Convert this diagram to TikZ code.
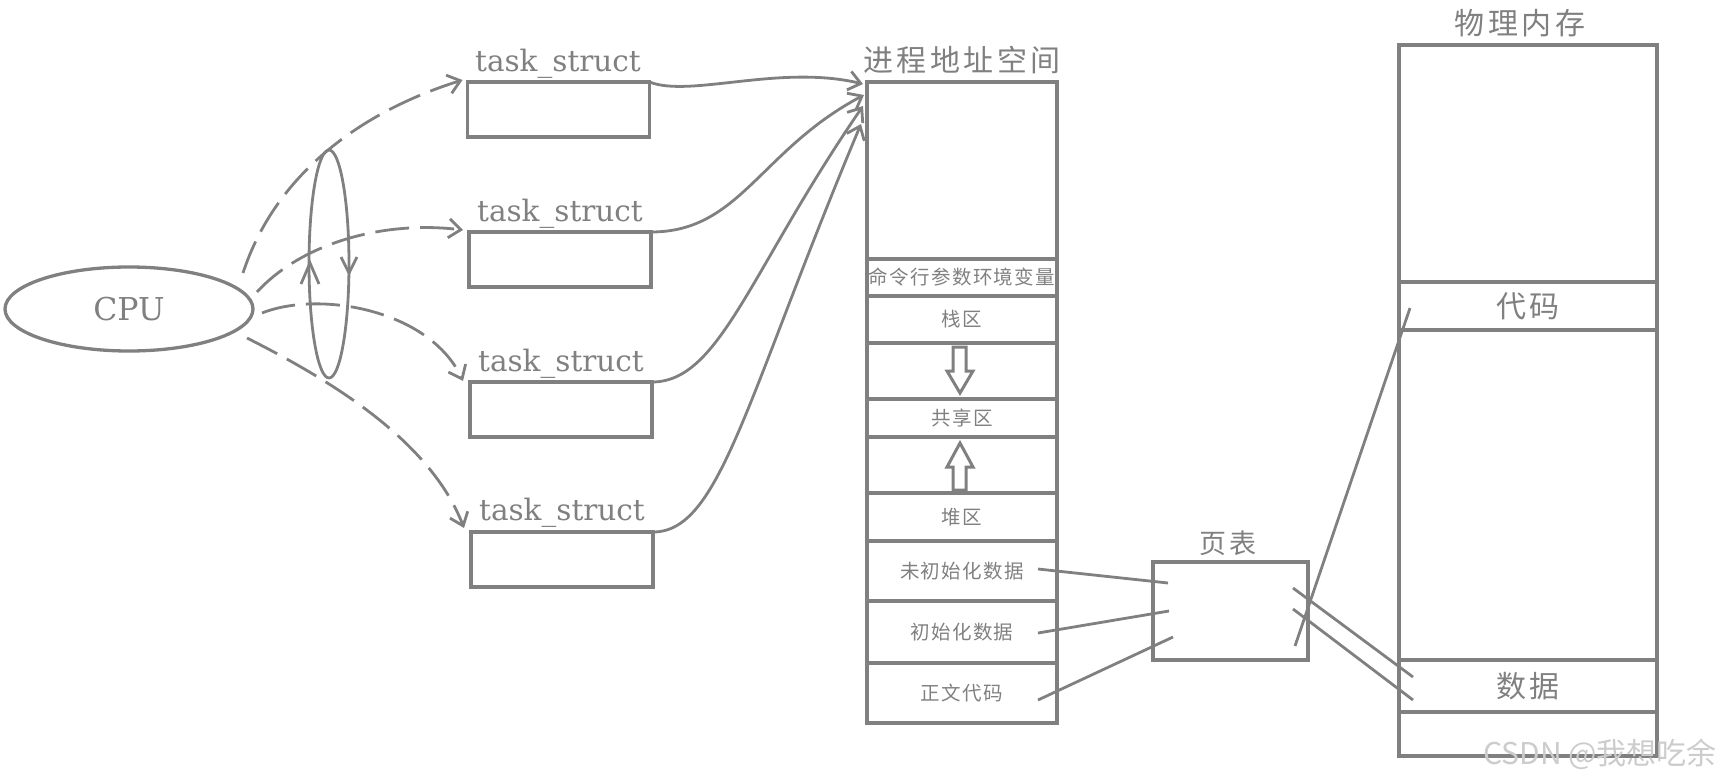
\documentclass[tikz,border=0pt]{standalone}
\usepackage{fontspec}
\setmainfont{DejaVu Serif}
\newfontfamily\cjkbig[LetterSpace=12]{Noto Sans CJK SC}
\newfontfamily\cjksmall[LetterSpace=7]{Noto Sans CJK SC}
\newfontfamily\wmfont{Noto Sans CJK SC}
\usetikzlibrary{shapes.geometric,arrows.meta,calc}
\definecolor{ln}{RGB}{128,128,128}
\begin{document}
\begin{tikzpicture}[x=1pt,y=-1pt,
  sec/.style={draw=ln,line width=3.3pt,inner sep=0pt,outer sep=0pt,minimum width=190pt,text=ln,font=\cjksmall\fontsize{19.5}{21}\selectfont},
  mem/.style={draw=ln,line width=3.3pt,inner sep=0pt,outer sep=0pt,minimum width=258pt,text=ln,font=\cjkbig\fontsize{30}{34}\selectfont},
  tsbox/.style={draw=ln,line width=3.3pt,inner sep=0pt,outer sep=0pt,minimum width=182pt,minimum height=55pt},
  tslabel/.style={text=ln,font=\fontsize{29.5}{32}\selectfont,anchor=base,inner sep=0pt},
  title/.style={text=ln,font=\cjkbig\fontsize{30}{34}\selectfont,inner sep=0pt},
  conn/.style={draw=ln,line width=2.8pt},
  dashconn/.style={conn,dash pattern=on 34pt off 11pt},
  tip/.style={-{Straight Barb[length=12pt,width=19pt]}},
  blockarrow/.style={draw=ln,line width=3pt,line join=miter}
]
\useasboundingbox (0,0) rectangle (1734,784);

% CPU
\node[ellipse,draw=ln,line width=3.3pt,minimum width=248pt,minimum height=84pt,inner sep=0pt,outer sep=0pt,text=ln,font=\fontsize{31.5}{34}\selectfont] (cpu) at (129,309) {CPU};

% small cycle ellipse
\draw[conn] (329,264) ellipse [x radius=20, y radius=114];
\draw[conn] (301,284) -- (310,263) -- (319,284);
\draw[conn] (341,257) -- (349,273) -- (357,257);

% task_struct boxes
\node[tsbox] (ts1) at (558.5,109.5) {};
\node[tsbox] (ts2) at (560,259.5) {};
\node[tsbox] (ts3) at (561,409.5) {};
\node[tsbox] (ts4) at (562,559.5) {};
\node[tslabel] (tl1) at (558,71) {task\_struct};
\node[tslabel] (tl2) at (560,221) {task\_struct};
\node[tslabel] (tl3) at (561,371) {task\_struct};
\node[tslabel] (tl4) at (562,520) {task\_struct};

% CPU dashed arrows
\coordinate (c1) at (243,273);
\coordinate (c2) at (257,292);
\coordinate (c3) at (262,313);
\coordinate (c4) at (247,338);
\draw[dashconn,tip] (c1) .. controls (275,175) and (360,112) .. ([shift={(-5,-2)}]ts1.north west);
\draw[dashconn,tip] (c2) .. controls (300,245) and (380,220) .. ([shift={(-6,-2)}]ts2.north west);
\draw[dashconn,tip] (c3) .. controls (320,290) and (430,310) .. ([shift={(-7,-1)}]ts3.north west);
\draw[dashconn,tip] (c4) .. controls (330,380) and (430,440) .. ([shift={(-7,-4)}]ts4.north west);

% address space
\node[title] (astitle) at (962,60) {进程地址空间};
\node[sec,minimum height=177pt] (s0) at (962,170.5) {};
\node[sec,minimum height=37pt] (s1) at (962,277.5) {命令行参数环境变量};
\node[sec,minimum height=47pt] (s2) at (962,319.5) {栈区};
\node[sec,minimum height=56pt] (s3) at (962,371) {};
\node[sec,minimum height=38pt] (s4) at (962,418) {共享区};
\node[sec,minimum height=56pt] (s5) at (962,465) {};
\node[sec,minimum height=48pt] (s6) at (962,517) {堆区};
\node[sec,minimum height=60pt] (s7) at (962,571) {未初始化数据};
\node[sec,minimum height=62pt] (s8) at (962,632) {初始化数据};
\node[sec,minimum height=60pt] (s9) at (962,693) {正文代码};

% block arrows
\draw[blockarrow] (953,347) -- (966,347) -- (966,371) -- (973,371) -- (960,393) -- (947,371) -- (953,371) -- cycle;
\draw[blockarrow] (960,443) -- (973,467) -- (966,467) -- (966,490) -- (953,490) -- (953,467) -- (947,467) -- cycle;

% task_struct -> address space
\draw[conn,tip] (ts1.north east) .. controls +(40,16) and +(-83,-20) .. ([shift={(-4,2)}]s0.north west);
\draw[conn,tip] (ts2.north east) .. controls +(89,0) and +(-104,55) .. ([shift={(-3,13)}]s0.north west);
\draw[conn,tip] (ts3.north east) .. controls +(68,0) and +(-113,164) .. ([shift={(-4,24)}]s0.north west);
\draw[conn,tip] (ts4.north east) .. controls +(67,0) and +(-116,276) .. ([shift={(-6,42)}]s0.north west);

% page table
\node[title,font=\cjkbig\fontsize{27}{30}\selectfont] (pttitle) at (1228,543) {页表};
\node[draw=ln,line width=3.3pt,inner sep=0pt,outer sep=0pt,minimum width=155pt,minimum height=98pt] (pt) at (1230.5,611) {};

% physical memory
\node[title] (pmtitle) at (1520,23.5) {物理内存};
\node[mem,minimum height=237pt] (m0) at (1528,163.5) {};
\node[mem,minimum height=48pt] (m1) at (1528,306) {代码};
\node[mem,minimum height=330pt] (m2) at (1528,495) {};
\node[mem,minimum height=52pt] (m3) at (1528,686) {数据};
\node[mem,minimum height=44pt] (m4) at (1528,734) {};

% mapping lines
\coordinate (a7) at (1038,569);
\coordinate (a8) at (1038,633);
\coordinate (a9) at (1038,700);
\coordinate (p7) at (1168,583);
\coordinate (p8) at (1169,611);
\coordinate (p9) at (1173,637);
\coordinate (q1) at (1293,588);
\coordinate (q2) at (1293,609);
\coordinate (q3) at (1295,646);
\coordinate (d1) at (1413,677);
\coordinate (d2) at (1413,700);
\coordinate (k1) at (1410,308);
\draw[conn] (a7) -- (p7);
\draw[conn] (a8) -- (p8);
\draw[conn] (a9) -- (p9);
\draw[conn] (q1) -- (d1);
\draw[conn] (q2) -- (d2);
\draw[conn] (q3) -- (k1);

% watermark
\node[text=gray!40,font=\wmfont\fontsize{30}{32}\selectfont,inner sep=0pt] (wm) at (1600,754) {CSDN @我想吃余};
\end{tikzpicture}
\end{document}
